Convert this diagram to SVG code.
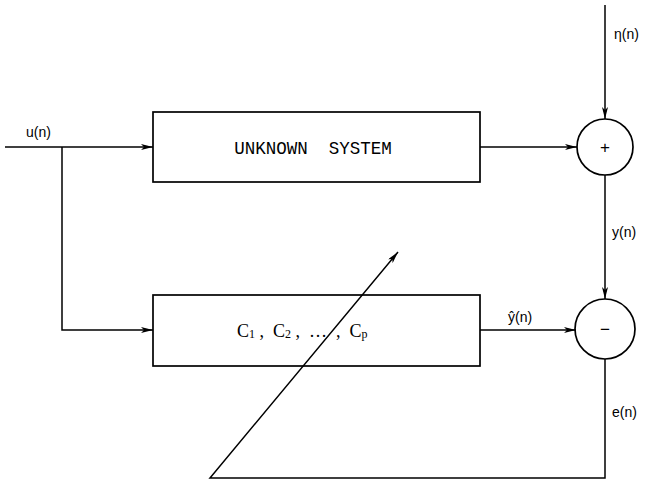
<svg xmlns="http://www.w3.org/2000/svg" width="653" height="483" viewBox="0 0 653 483">
<style>
.ln{stroke:#000;stroke-width:1.5;fill:none}
.bx{stroke:#000;stroke-width:1.7;fill:none}
.lb{font-family:"Liberation Sans",Arial,sans-serif;font-size:14px;fill:#000}
.sg{font-family:"Liberation Sans",Arial,sans-serif;font-size:17px;fill:#000}
.mono{font-family:"Liberation Mono","Courier New",monospace;font-size:17.5px;fill:#000;white-space:pre}
.ser{font-family:"Liberation Serif","Times New Roman",serif;font-size:18px;fill:#000;white-space:pre}
</style>
<defs>
<marker id="ah" viewBox="0 0 12 6" refX="12" refY="3" markerWidth="12" markerHeight="6" markerUnits="userSpaceOnUse" orient="auto">
<path d="M0,0 L12,3 L0,6 L3,3 Z" fill="#000"/>
</marker>
</defs>
<g id="connectors">
<line class="ln" x1="5" y1="147" x2="153" y2="147" marker-end="url(#ah)"/>
<polyline class="ln" points="62,147 62,330 153,330" marker-end="url(#ah)"/>
<line class="ln" x1="480" y1="147" x2="577" y2="147" marker-end="url(#ah)"/>
<line class="ln" x1="605" y1="5" x2="605" y2="119" marker-end="url(#ah)"/>
<line class="ln" x1="605" y1="175" x2="605" y2="299" marker-end="url(#ah)"/>
<line class="ln" x1="480" y1="330" x2="576" y2="330" marker-end="url(#ah)"/>
<polyline class="ln" points="605,359 605,478 210,478 398,252" marker-end="url(#ah)"/>
</g>
<g id="unknown-system">
<rect class="bx" x="153" y="112" width="327" height="70"/>
<text class="mono" x="313" y="154" text-anchor="middle" xml:space="preserve">UNKNOWN  SYSTEM</text>
</g>
<g id="adaptive-filter">
<rect class="bx" x="153" y="295" width="327" height="71"/>
<text class="ser" x="237" y="337" xml:space="preserve">C<tspan font-size="12" dy="1">1</tspan><tspan dy="-1"> ,  C</tspan><tspan font-size="12" dy="1">2</tspan><tspan dy="-1"> ,  …  ,  C</tspan><tspan font-size="12" dy="1">p</tspan></text>
</g>
<g id="sum-plus">
<circle class="bx" cx="605" cy="147" r="28"/>
<text class="sg" x="605" y="153" text-anchor="middle">+</text>
</g>
<g id="sum-minus">
<circle class="bx" cx="605" cy="329" r="30"/>
<text class="sg" x="605" y="335" text-anchor="middle">−</text>
</g>
<g id="labels">
<text class="lb" x="26" y="137">u(n)</text>
<text class="lb" x="614" y="39">η(n)</text>
<text class="lb" x="612" y="237">y(n)</text>
<text class="lb" x="508" y="322">ŷ(n)</text>
<text class="lb" x="612" y="417">e(n)</text>
</g>
</svg>
